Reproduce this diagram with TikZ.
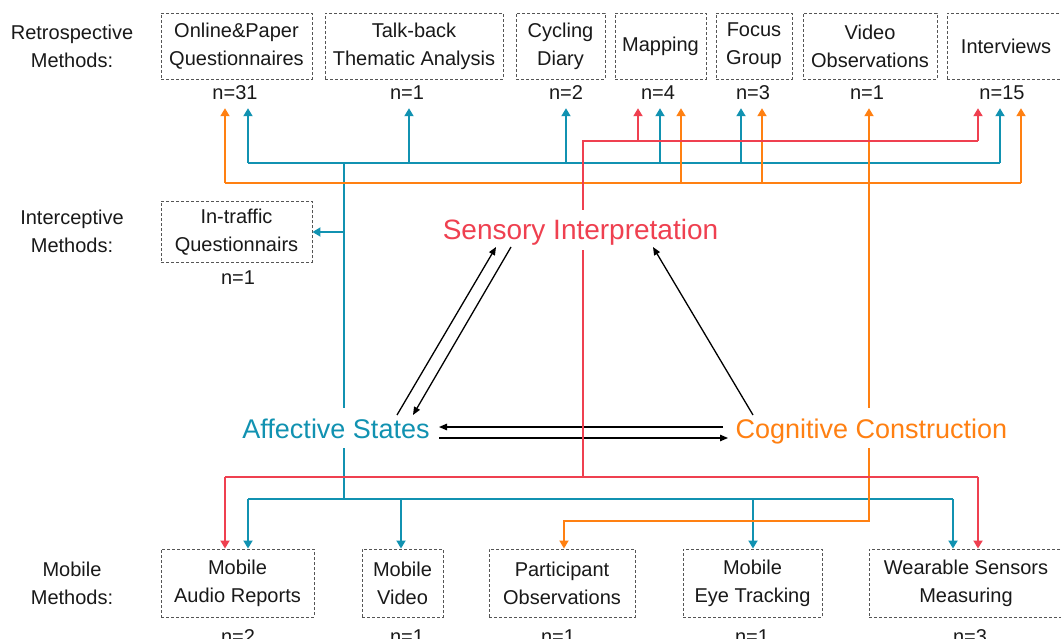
\documentclass[tikz,border=0pt]{standalone}
\usepackage{fontspec}
\setmainfont{Liberation Sans}
\usetikzlibrary{arrows.meta,calc}
\definecolor{cblue}{HTML}{1192B1}
\definecolor{cred}{HTML}{EF4050}
\definecolor{corange}{HTML}{FF8012}
\definecolor{cbox}{HTML}{555555}
\tikzset{
  txt/.style={font=\fontsize{20}{28}\selectfont, align=center, text=black!90},
  box/.style={txt, draw=cbox, line width=0.9pt, dash pattern=on 3pt off 2pt, inner sep=0pt},
  nlbl/.style={font=\fontsize{20}{28}\selectfont, text=black!90, anchor=base, text height=14pt, text depth=0pt, inner xsep=2pt, inner ysep=8pt},
  big/.style={font=\fontsize{27}{30}\selectfont, anchor=base, text height=20pt, text depth=0pt, inner xsep=0pt, inner ysep=10pt},
  arr/.style={-{Triangle[length=8pt,width=9pt]}},
  bl/.style={draw=cblue, line width=1.8pt},
  rd/.style={draw=cred, line width=1.8pt},
  og/.style={draw=corange, line width=1.8pt},
  blk/.style={draw=black, line width=1.3pt, -{Triangle[length=8pt,width=6.5pt]}},
}
\begin{document}
\begin{tikzpicture}[x=1pt,y=-1pt]
\useasboundingbox (0,0) rectangle (1061,639);
\fill[white] (0,0) rectangle (1061,639);

% left labels
\node[txt] (lret) at (72,46) {Retrospective\\Methods:};
\node[txt] (lint) at (72,231.5) {Interceptive\\Methods:};
\node[txt] (lmob) at (72,583) {Mobile\\Methods:};

% top boxes
\node[box, minimum width=151, minimum height=66] (b1) at (236.5,46) {Online\&Paper\\Questionnaires};
\node[box, minimum width=178, minimum height=66] (b2) at (414,46) {Talk-back\\Thematic Analysis};
\node[box, minimum width=89, minimum height=66] (b3) at (560.5,46) {Cycling\\Diary};
\node[box, minimum width=91, minimum height=66] (b4) at (660.5,46) {Mapping};
\node[box, minimum width=76, minimum height=66] (b5) at (754,46) {Focus\\Group};
\node[box, minimum width=134, minimum height=66] (b6) at (870,46) {Video\\Observations};
\node[box, minimum width=118, minimum height=66] (b7) at (1006,46) {Interviews};

\node[nlbl] (n31) at (235,100) {n=31};
\node[nlbl] (nTB) at (407,100) {n=1};
\node[nlbl] (nCD) at (566,100) {n=2};
\node[nlbl] (nMap) at (658,100) {n=4};
\node[nlbl] (nFG) at (753,100) {n=3};
\node[nlbl] (nVO) at (867,100) {n=1};
\node[nlbl] (nIV) at (1002,100) {n=15};

% interceptive
\node[box, minimum width=151, minimum height=61] (itq) at (236.5,232) {In-traffic\\Questionnairs};
\node[nlbl] (nIT) at (238,285) {n=1};

% bottom boxes
\node[box, minimum width=153, minimum height=68] (mar) at (237.5,583) {Mobile\\Audio Reports};
\node[box, minimum width=81, minimum height=68] (mv) at (402.5,583) {Mobile\\Video};
\node[box, minimum width=146, minimum height=68] (po) at (562,583) {Participant\\Observations};
\node[box, minimum width=139, minimum height=68] (met) at (752.5,583) {Mobile\\Eye Tracking};
\node[box, minimum width=194, minimum height=68] (ws) at (966,583) {Wearable Sensors\\Measuring};

\node[nlbl] (nMAR) at (238,643) {n=2};
\node[nlbl] (nMV) at (407,643) {n=1};
\node[nlbl] (nPO) at (558,643) {n=1};
\node[nlbl] (nMET) at (752,643) {n=1};
\node[nlbl] (nWS) at (970,643) {n=3};

% central concepts
\node[big, text=cred, font=\fontsize{28}{30}\selectfont] (sens) at (580.5,240) {Sensory Interpretation};
\node[big, text=cblue] (aff) at (336,438) {Affective States};
\node[big, text=corange] (cog) at (871.5,438) {Cognitive Construction};

% black arrows
\draw[blk] ($(aff.base)+(61,-23)$) -- ($(sens.base)+(-84.5,7)$);
\draw[blk] ($(sens.base)+(-69.5,7)$) -- ($(aff.base)+(77,-23)$);
\draw[blk] ($(cog.base)+(-118.5,-23)$) -- ($(sens.base)+(72.5,7)$);
\draw[blk] ($(cog.base)+(-148.5,-11)$) -- ($(aff.base)+(103,-11)$);
\draw[blk] ($(aff.base)+(103,0)$) -- ($(cog.base)+(-143.5,0)$);

% ---- blue (Affective States) ----
\coordinate (bT) at (344,163);
\coordinate (bB) at (344,499);
\draw[bl] ([xshift=8]aff.north) -- (bT);
\draw[bl] (248,163) -- (1000,163);
\draw[bl,arr] (248,163) -- ([xshift=13]n31.south);
\draw[bl,arr] (409,163) -- ([xshift=2]nTB.south);
\draw[bl,arr] (566,163) -- (nCD.south);
\draw[bl,arr] (660,163) -- ([xshift=2]nMap.south);
\draw[bl,arr] (741,163) -- ([xshift=-12]nFG.south);
\draw[bl,arr] (1000,163) -- ([xshift=-2]nIV.south);
\draw[bl,arr] (itq.east -| bT) -- (itq.east);
\draw[bl] ([xshift=8]aff.south) -- (bB);
\draw[bl] (248,499) -- (953,499);
\draw[bl,arr] (248,499) -- ([xshift=10.5]mar.north);
\draw[bl,arr] (401,499) -- ([xshift=-1.5]mv.north);
\draw[bl,arr] (753,499) -- ([xshift=0.5]met.north);
\draw[bl,arr] (953,499) -- ([xshift=-13]ws.north);

% ---- orange (Cognitive Construction) ----
\draw[og] (225,183) -- (1021,183);
\draw[og,arr] ([xshift=-2.5]cog.north) -- ([xshift=2]nVO.south);
\draw[og,arr] (225,183) -- ([xshift=-10]n31.south);
\draw[og,arr] (681,183) -- ([xshift=23]nMap.south);
\draw[og,arr] (762,183) -- ([xshift=9]nFG.south);
\draw[og,arr] (1021,183) -- ([xshift=19]nIV.south);
\coordinate (oB) at (869,521);
\draw[og,arr] ([xshift=-2.5]cog.south) -- (oB) -- (564,521) -- ([xshift=2]po.north);

% ---- red (Sensory Interpretation) ----
\coordinate (rT) at (583,141);
\coordinate (rB) at (583,477);
\draw[rd] ([xshift=2.5]sens.north) -- (rT) -- (978,141);
\draw[rd,arr] (638,141) -- ([xshift=-20]nMap.south);
\draw[rd,arr] (978,141) -- ([xshift=-24]nIV.south);
\draw[rd] ([xshift=2.5]sens.south) -- (rB);
\draw[rd] (225,477) -- (978,477);
\draw[rd,arr] (225,477) -- ([xshift=-12.5]mar.north);
\draw[rd,arr] (978,477) -- ([xshift=12]ws.north);
\end{tikzpicture}
\end{document}
